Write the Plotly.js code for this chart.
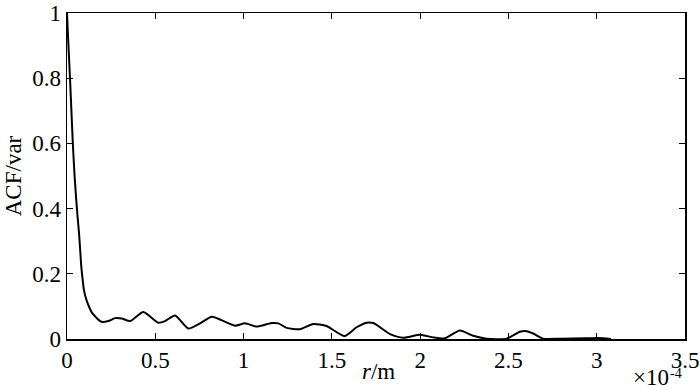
<!DOCTYPE html>
<html>
<head>
<meta charset="utf-8">
<script src="https://cdn.plot.ly/plotly-3.0.1.min.js"></script>
<style>html,body{margin:0;padding:0;background:#fff;}#chart{width:700px;height:390px;}</style>
</head>
<body>
<div id="chart"></div>
<script>
// r in units of 1e-4 m
const rValues = [0, 0.004, 0.009, 0.017, 0.025, 0.033, 0.043, 0.052, 0.06, 0.068, 0.075, 0.081, 0.088, 0.096, 0.11, 0.125, 0.142, 0.162, 0.18, 0.2,
  0.234, 0.272, 0.31, 0.357, 0.432, 0.517, 0.555, 0.612, 0.687, 0.753, 0.82, 0.866, 0.951, 1.008,
  1.074, 1.159, 1.197, 1.244, 1.319, 1.395, 1.47, 1.572, 1.64, 1.697, 1.735, 1.83, 1.904, 1.999,
  2.074, 2.14, 2.225, 2.3, 2.376, 2.49, 2.565, 2.603, 2.64, 2.697, 2.79, 2.94, 3.01, 3.08];
const acfValues = [1, 0.95, 0.89, 0.8, 0.7, 0.6, 0.5, 0.43, 0.375, 0.325, 0.27, 0.222, 0.185, 0.15, 0.12, 0.099, 0.08, 0.068, 0.058, 0.052,
  0.055, 0.064, 0.063, 0.055, 0.083, 0.05, 0.055, 0.072, 0.032, 0.048, 0.068, 0.06, 0.041, 0.048,
  0.038, 0.049, 0.048, 0.034, 0.03, 0.046, 0.04, 0.009, 0.036, 0.05, 0.049, 0.015, 0.004, 0.013,
  0.005, 0.002, 0.026, 0.01, 0.001, 0.001, 0.022, 0.024, 0.017, 0.001, 0.001, 0.002, 0.003, 0.0];
const xTicks = [0, 0.5, 1, 1.5, 2, 2.5, 3, 3.5];
const yTicks = [0, 0.2, 0.4, 0.6, 0.8, 1];

const font = {family: 'Times New Roman, Liberation Serif, serif', size: 23, color: '#000'};
const smallFont = {family: 'Times New Roman, Liberation Serif, serif', size: 14, color: '#000'};
const axisCommon = {
  showline: true, mirror: 'ticks', linecolor: '#000', linewidth: 1.5,
  ticks: 'inside', ticklen: 6, tickwidth: 1.2, tickcolor: '#000',
  showgrid: false, zeroline: false, tickfont: font
};
Plotly.newPlot('chart', [{
  x: rValues, y: acfValues, type: 'scatter', mode: 'lines',
  line: {color: '#000', width: 2, shape: 'spline', smoothing: 0.6},
  hoverinfo: 'skip'
}], {
  width: 700, height: 390,
  margin: {l: 67, r: 15, t: 13, b: 51},
  paper_bgcolor: '#fff', plot_bgcolor: '#fff',
  showlegend: false,
  font: font,
  xaxis: Object.assign({}, axisCommon, {
    range: [0, 3.5], tickvals: xTicks, ticktext: xTicks.map(String)
  }),
  yaxis: Object.assign({}, axisCommon, {
    range: [0, 1], tickvals: yTicks, ticktext: yTicks.map(String),
    title: {text: 'ACF/var', font: font, standoff: 4}
  }),
  annotations: [{
    xref: 'paper', yref: 'paper', x: 0.504, y: -0.1, xanchor: 'center', yanchor: 'middle',
    text: '<i>r</i>/m', showarrow: false, font: font
  }, {
    xref: 'paper', yref: 'paper', x: 0.976, y: -0.119, xanchor: 'right', yanchor: 'middle',
    text: '×10', showarrow: false, font: font, borderpad: 0
  }, {
    xref: 'paper', yref: 'paper', x: 0.974, y: -0.107, xanchor: 'left', yanchor: 'middle',
    text: '-4', showarrow: false, font: smallFont, borderpad: 0
  }]
}, {staticPlot: true});
</script>
</body>
</html>
